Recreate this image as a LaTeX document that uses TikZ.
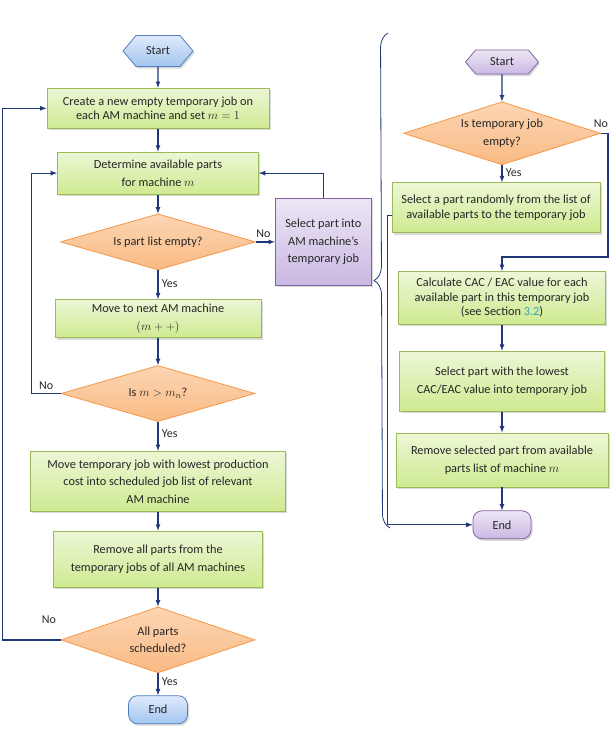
\documentclass[tikz,border=0pt]{standalone}
\usepackage{fontspec}
\setmainfont{Carlito}
\usetikzlibrary{shapes.geometric, shapes.symbols, arrows, positioning, shadows, decorations.pathreplacing}

\definecolor{navy}{RGB}{31,56,120}
\definecolor{greendraw}{RGB}{155,187,89}
\definecolor{greentop}{RGB}{236,247,214}
\definecolor{greenbot}{RGB}{207,234,145}
\definecolor{orangedraw}{RGB}{247,150,70}
\definecolor{orangetop}{RGB}{252,214,180}
\definecolor{orangebot}{RGB}{249,186,132}
\definecolor{bluedraw}{RGB}{79,129,189}
\definecolor{bluetop}{RGB}{222,234,250}
\definecolor{bluebot}{RGB}{163,197,240}
\definecolor{purpledraw}{RGB}{128,100,162}
\definecolor{purpletop}{RGB}{238,230,246}
\definecolor{purplebot}{RGB}{201,184,226}
\definecolor{linkteal}{RGB}{50,160,190}

\tikzstyle{shade} = [
    drop shadow={shadow xshift=1.5pt, shadow yshift=-2pt, opacity=0.3}
]
\tikzstyle{hexa} = [
    signal,
    signal to=east and west,
    signal pointer angle=100,
    inner sep=2pt
]
\tikzstyle{pill} = [
    rectangle,
    rounded corners=9pt
]
\tikzstyle{blueterm} = [
    shade,
    draw=bluedraw,
    top color=bluetop,
    bottom color=bluebot,
    line width=0.8pt
]
\tikzstyle{purpleterm} = [
    shade,
    draw=purpledraw,
    top color=purpletop,
    bottom color=purplebot,
    line width=0.8pt
]
\tikzstyle{process} = [
    rectangle,
    shade,
    align=center,
    draw=greendraw,
    top color=greentop,
    bottom color=greenbot,
    line width=0.8pt
]
\tikzstyle{decision} = [
    diamond,
    aspect=3.5,
    inner sep=0pt,
    align=center,
    draw=orangedraw,
    top color=orangetop,
    bottom color=orangebot,
    line width=0.8pt
]
\tikzstyle{subprocess} = [
    rectangle,
    shade,
    align=center,
    draw=purpledraw,
    top color=purpletop,
    bottom color=purplebot,
    line width=0.8pt
]
\tikzstyle{arrow} = [line width=1.2pt, draw=navy, ->, >=latex]
\tikzstyle{lbl} = [font=\fontsize{12}{14}\selectfont, text=black!85]

\begin{document}
\begin{tikzpicture}[x=1pt, y=1pt, font=\fontsize{12.3}{17.5}\selectfont, text=black!85]

\useasboundingbox (0,0) rectangle (611,-753);

% main scheduling loop
\node (start) [hexa, blueterm, minimum width=70pt, minimum height=31pt] at (158,-51) {Start};

\node (create) [process, below=21pt of start, minimum width=222pt, minimum height=40pt]
{Create a new empty temporary job on\\[-3pt] each AM machine and set $m=1$};

\node (avail) [process, below=23pt of create, minimum width=201pt, minimum height=42pt]
{Determine available parts\\ for machine $m$};

\node (empty) [decision, below=19pt of avail, minimum width=195pt, minimum height=56pt]
{Is part list empty?};

\node (select) [subprocess, right=19pt of empty, minimum width=96pt, minimum height=87pt]
{Select part into\\ AM machine’s\\ temporary job};

\node (next) [process, below=29pt of empty, minimum width=206pt, minimum height=38pt]
{Move to next AM machine\\ $(m+{+})$};

\node (last) [decision, below=27pt of next, minimum width=194pt, minimum height=56pt]
{Is $m > m_n$?};

\node (move) [process, below=29pt of last, minimum width=255pt, minimum height=60pt]
{Move temporary job with lowest production\\ cost into scheduled job list of relevant\\ AM machine};

\node (clear) [process, below=19pt of move, minimum width=209pt, minimum height=56pt]
{Remove all parts from the\\ temporary jobs of all AM machines};

\node (done) [decision, below=19pt of clear, minimum width=194pt, minimum height=66pt]
{All parts\\ scheduled?};

\node (stop) [pill, blueterm, below=22pt of done, minimum width=59pt, minimum height=28pt] {End};

\draw [arrow] (start) -- (create);
\draw [arrow] (create) -- (avail);
\draw [arrow] (avail) -- (empty);
\draw [arrow] (empty) -- node[lbl, pos=0.4, above] {No} (select);
\draw [arrow] (select.north) |- (avail.east);
\draw [arrow] (empty) -- node[lbl, pos=0.45, right] {Yes} (next);
\draw [arrow] (next) -- (last);
\draw [arrow] (last.west) -- node[lbl, above] {No} ++(-29pt,0) |- (avail.west);
\draw [arrow] (last) -- node[lbl, pos=0.4, right] {Yes} (move);
\draw [arrow] (move) -- (clear);
\draw [arrow] (clear) -- (done);
\draw [arrow] (done.west) -- node[lbl, pos=0.2, above, yshift=12pt] {No} ++(-58pt,0) |- (create.west);
\draw [arrow] (done) -- node[lbl, pos=0.4, right] {Yes} (stop);

% part selection detail
\node (rstart) [hexa, purpleterm, minimum width=73pt, minimum height=24pt] at (502,-62) {Start};

\node (tjob) [decision, below=27pt of rstart, minimum width=197pt, minimum height=63pt]
{Is temporary job\\ empty?};

\node (rand) [process, below=17pt of tjob, xshift=-6pt, minimum width=208pt, minimum height=50pt]
{Select a part randomly from the list of\\[-3pt] available parts to the temporary job};

\node (calc) [process, below=38pt of rand, xshift=6pt, minimum width=207pt, minimum height=53pt]
{Calculate CAC / EAC value for each\\[-3pt] available part in this temporary job\\[-3pt] (see Section \textcolor{linkteal}{3.2})};

\node (lowest) [process, below=26pt of calc, minimum width=205pt, minimum height=60pt]
{Select part with the lowest\\ CAC/EAC value into temporary job};

\node (drop) [process, below=21pt of lowest, minimum width=212pt, minimum height=54pt]
{Remove selected part from available\\ parts list of machine $m$};

\node (rend) [pill, purpleterm, below=23pt of drop, minimum width=58pt, minimum height=28pt] {End};

\draw [arrow] (rstart) -- (tjob);
\draw [arrow] (tjob.south) -- node[lbl, pos=0.45, right] {Yes} (tjob.south |- rand.north);
\draw [arrow] (tjob.east) -- ++(7pt,0) node[lbl, above, xshift=-7pt, yshift=2pt] {No} |- ([yshift=14pt]calc.north) -- (calc.north);
\draw [arrow] ([yshift=-8pt]rand.west) -- ++(-4pt,0) |- (rend.west);
\draw [arrow] (calc) -- (lowest);
\draw [arrow] (lowest) -- (drop);
\draw [arrow] (drop) -- (rend);

% brace linking the detail to the select step
\draw [navy, line width=0.8pt, decorate, decoration={brace, amplitude=15pt}] (390,-528) -- (388,-33);

\end{tikzpicture}
\end{document}
